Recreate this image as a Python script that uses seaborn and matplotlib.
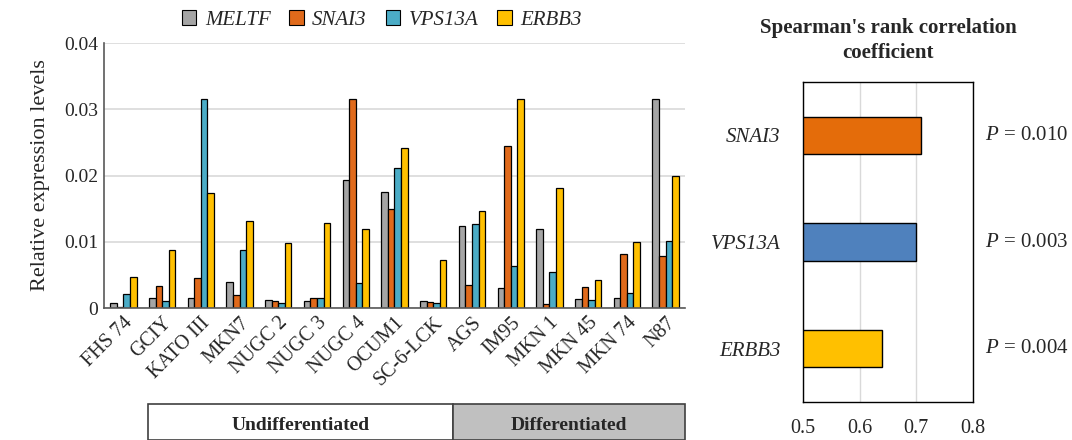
import numpy as np
import pandas as pd
import matplotlib
matplotlib.use("Agg")
import matplotlib.pyplot as plt
from matplotlib.patches import Patch, Rectangle
import seaborn as sns

# ── data ──
cell_lines = ["FHS 74", "GCIY", "KATO III", "MKN7", "NUGC 2", "NUGC 3", "NUGC 4",
              "OCUM1", "SC-6-LCK", "AGS", "IM95", "MKN 1", "MKN 45", "MKN 74", "N87"]
meltf = [0.0007, 0.0015, 0.0015, 0.0040, 0.0012, 0.0011, 0.0194, 0.0175,
         0.0011, 0.0124, 0.0030, 0.0119, 0.0013, 0.0015, 0.0316]
snai3 = [0.0002, 0.0033, 0.0045, 0.0020, 0.0010, 0.0015, 0.0316, 0.0150,
         0.0009, 0.0034, 0.0244, 0.0006, 0.0032, 0.0081, 0.0078]
vps13a = [0.0021, 0.0011, 0.0316, 0.0087, 0.0008, 0.0015, 0.0038, 0.0212,
          0.0008, 0.0127, 0.0064, 0.0054, 0.0012, 0.0023, 0.0101]
erbb3 = [0.0047, 0.0088, 0.0174, 0.0131, 0.0098, 0.0129, 0.0120, 0.0242,
         0.0073, 0.0147, 0.0316, 0.0181, 0.0043, 0.0099, 0.0199]
genes = ["MELTF", "SNAI3", "VPS13A", "ERBB3"]
gene_colors = ["#A5A5A5", "#E06A1B", "#4BACC6", "#FFC000"]

groups = ["Undifferentiated", "Differentiated"]

corr_genes = ["SNAI3", "VPS13A", "ERBB3"]
rho = [0.708, 0.700, 0.640]
p_values = ["0.010", "0.003", "0.004"]
corr_colors = ["#E46C0A", "#4F81BD", "#FFC000"]

# ── style ──
sns.set_theme(style="white")
plt.rcParams["font.family"] = ["Liberation Serif", "DejaVu Serif"]
plt.rcParams["mathtext.fontset"] = "custom"
plt.rcParams["mathtext.it"] = "Liberation Serif:italic"
plt.rcParams["mathtext.rm"] = "Liberation Serif"

expr = pd.DataFrame({"cell": cell_lines, "MELTF": meltf, "SNAI3": snai3,
                     "VPS13A": vps13a, "ERBB3": erbb3})
long = expr.melt(id_vars="cell", var_name="gene", value_name="level")

fig = plt.figure(figsize=(10.72, 4.4), dpi=100)

# ─────────────────────────────────────────────
# Left: expression levels
# ─────────────────────────────────────────────
ax = fig.add_axes([0.097, 0.30, 0.542, 0.602])
sns.barplot(data=long, x="cell", y="level", hue="gene", hue_order=genes,
            palette=gene_colors, saturation=1, width=0.68, edgecolor="black",
            linewidth=0.9, legend=False, ax=ax)
ax.set_ylim(0, 0.04)
ax.set_xlim(-0.5, len(cell_lines) - 0.5)
ax.set_yticks([0, 0.01, 0.02, 0.03, 0.04])
ax.set_yticklabels(["0", "0.01", "0.02", "0.03", "0.04"], fontsize=14)
ax.yaxis.grid(True, color="#D9D9D9", linewidth=1.2)
ax.set_axisbelow(True)
for s in ["top", "right"]:
    ax.spines[s].set_visible(False)
ax.spines["left"].set_color("#595959")
ax.spines["bottom"].set_color("#595959")
ax.spines["left"].set_linewidth(1.2)
ax.spines["bottom"].set_linewidth(1.2)
ax.tick_params(axis="both", length=0, pad=4)
ax.set_xticks(range(len(cell_lines)))
ax.set_xticklabels(cell_lines, rotation=45, ha="right", rotation_mode="anchor", fontsize=14.5)
ax.set_xlabel("")
ax.set_ylabel("Relative expression levels", fontsize=16, labelpad=10)

handles = [Patch(facecolor=c, edgecolor="black", linewidth=0.8) for c in gene_colors]
fig.legend(handles, genes, loc="center", bbox_to_anchor=(0.356, 0.955), ncol=4,
           frameon=False, handlelength=0.7, handleheight=0.7, handletextpad=0.4,
           columnspacing=0.9, prop={"family": "Liberation Serif", "style": "italic", "size": 15})

# group boxes below the cell lines
box_y, box_h = 0.0, 0.082
split = 453 / 1072
fig.patches.append(Rectangle((148 / 1072, box_y), split - 148 / 1072, box_h,
                             transform=fig.transFigure, facecolor="white",
                             edgecolor="#404040", linewidth=1.2))
fig.patches.append(Rectangle((split, box_y), 685 / 1072 - split, box_h,
                             transform=fig.transFigure, facecolor="#C0C0C0",
                             edgecolor="#404040", linewidth=1.2))
fig.text((148 / 1072 + split) / 2, 0.032, groups[0], ha="center", va="center",
         fontsize=14, fontweight="bold")
fig.text((split + 685 / 1072) / 2, 0.032, groups[1], ha="center", va="center",
         fontsize=14, fontweight="bold")

# ─────────────────────────────────────────────
# Right: Spearman correlation
# ─────────────────────────────────────────────
ax2 = fig.add_axes([0.749, 0.0864, 0.1586, 0.727])
corr = pd.DataFrame({"gene": corr_genes, "rho": rho})
sns.barplot(data=corr, y="gene", x="rho", hue="gene", palette=corr_colors,
            saturation=1, orient="h", width=0.35, edgecolor="black", linewidth=1.0,
            legend=False, ax=ax2)
ax2.set_xlim(0.5, 0.8)
ax2.set_ylim(2.5, -0.5)
ax2.set_xticks([0.5, 0.6, 0.7, 0.8])
ax2.set_xticklabels(["0.5", "0.6", "0.7", "0.8"], fontsize=14.5)
ax2.xaxis.grid(True, color="#D9D9D9", linewidth=1.0)
ax2.set_axisbelow(True)
ax2.set_yticks(range(len(corr_genes)))
ax2.set_yticklabels(corr_genes, fontsize=15, fontstyle="italic")
ax2.tick_params(axis="both", length=0)
ax2.tick_params(axis="x", pad=12)
ax2.tick_params(axis="y", pad=16)
for s in ax2.spines.values():
    s.set_visible(True)
    s.set_color("black")
    s.set_linewidth(1.0)
ax2.set_xlabel("")
ax2.set_ylabel("")
ax2.set_title("Spearman's rank correlation\ncoefficient", fontsize=15,
              fontweight="bold", pad=17, linespacing=1.35)

for i, p in enumerate(p_values):
    ax2.text(1.07, i, f"$P$ = {p}", transform=ax2.get_yaxis_transform(),
             ha="left", va="center", fontsize=15)

fig.savefig("out.png", dpi=100)
plt.close(fig)
